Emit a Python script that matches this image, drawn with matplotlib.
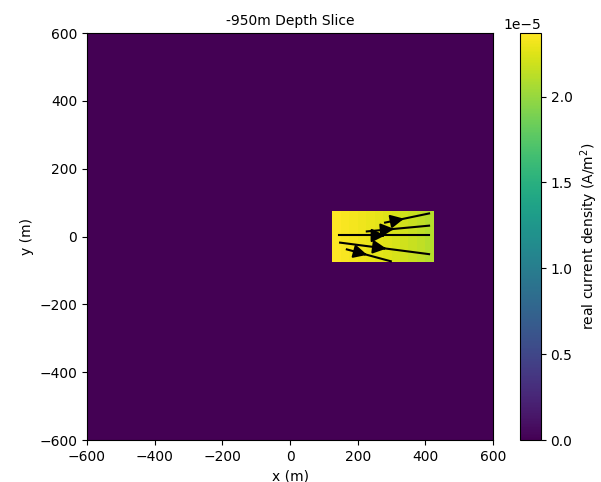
import numpy as np
import matplotlib
matplotlib.use("Agg")
import matplotlib.pyplot as plt
from matplotlib.patches import FancyArrowPatch

# Grid
x_edges = np.arange(-600, 601, 25)
y_edges = np.arange(-600, 601, 25)
# Anomalous block (current concentrated) extents
block_x = (125, 425)
block_y = (-75, 75)
# column values across the block (left -> right), A/m^2
block_cols = [2.37e-5, 2.35e-5, 2.33e-5, 2.31e-5, 2.29e-5, 2.27e-5,
              2.25e-5, 2.23e-5, 2.20e-5, 2.17e-5, 2.14e-5, 2.11e-5]
vmax = 2.37e-5

# Streamlines: start/end points and arrow-tip x positions
sl_x0 = [281, 227, 145, 148, 168]
sl_y0 = [41, 15, 3, -18, -38]
sl_x1 = [411, 411, 411, 411, 298]
sl_y1 = [68, 32, 3, -52, -73]
arrow_tip_x = [337, 308, 281, 285, 228]

C = np.zeros((len(y_edges) - 1, len(x_edges) - 1))
xc = 0.5 * (x_edges[:-1] + x_edges[1:])
yc = 0.5 * (y_edges[:-1] + y_edges[1:])
for j, x in enumerate(xc):
    if block_x[0] < x < block_x[1]:
        k = int((x - block_x[0]) // 25)
        for i, y in enumerate(yc):
            if block_y[0] < y < block_y[1]:
                C[i, j] = block_cols[k]

fig = plt.figure(figsize=(6.01, 4.82), dpi=100)
ax = fig.add_axes([0.1448, 0.0871, 0.6755, 0.8444])
cax = fig.add_axes([0.865, 0.0871, 0.035, 0.8444])

m = ax.pcolormesh(x_edges, y_edges, C, cmap="viridis", vmin=0, vmax=vmax,
                  shading="flat")
ax.set_xlim(-600, 600)
ax.set_ylim(-600, 600)

for x0, y0, x1, y1, xt in zip(sl_x0, sl_y0, sl_x1, sl_y1, arrow_tip_x):
    ax.plot([x0, x1], [y0, y1], color="black", lw=1.5)
    slope = (y1 - y0) / (x1 - x0)
    yt = y0 + (xt - x0) * slope
    xs = xt - 8
    ys = yt - 8 * slope
    arr = FancyArrowPatch((xs, ys), (xt, yt),
                          arrowstyle="-|>", mutation_scale=20,
                          color="black", lw=1.5, shrinkA=0, shrinkB=0)
    ax.add_patch(arr)

ax.set_title("-950m Depth Slice", fontsize=10)
ax.set_xlabel("x (m)")
ax.set_ylabel("y (m)")
ax.set_xticks([-600, -400, -200, 0, 200, 400, 600])
ax.set_yticks([-600, -400, -200, 0, 200, 400, 600])

cb = fig.colorbar(m, cax=cax)
cb.set_label("real current density (A/m$^2$)")
cb.set_ticks([0, 0.5e-5, 1.0e-5, 1.5e-5, 2.0e-5])

fig.savefig("out.png", dpi=100)
